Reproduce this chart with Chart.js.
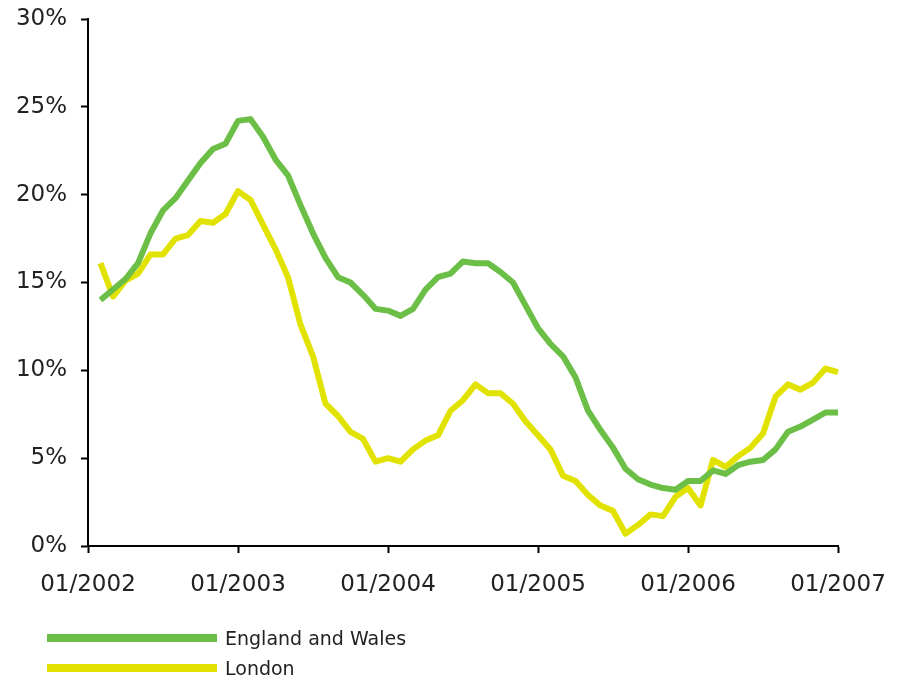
<!DOCTYPE html>
<html>
<head>
<meta charset="utf-8">
<script src="https://cdn.jsdelivr.net/npm/chart.js@4"></script>
<style>
  body { margin: 0; background: #fff; }
  #wrap { position: relative; width: 901px; height: 680px; }
  #legend { position: absolute; left: 47px; top: 623px; font-family: "DejaVu Sans", sans-serif; font-size: 19px; color: #222; }
  .item { display: flex; align-items: center; height: 30px; }
  .swatch { width: 170px; height: 8px; margin-right: 8px; }
</style>
</head>
<body>
<div id="wrap">
  <canvas id="lineChart" width="901" height="680"></canvas>
  <div id="legend"></div>
</div>
<script>
// Year tick labels on the x axis
const yearTicks = ["01/2002", "01/2003", "01/2004", "01/2005", "01/2006", "01/2007"];

// Monthly categories 01/2002 .. 01/2007
const months = [];
for (let y = 2002; y <= 2007; y++) {
  for (let m = 1; m <= 12; m++) {
    if (y === 2007 && m > 1) break;
    months.push((m < 10 ? "0" + m : "" + m) + "/" + y);
  }
}

// Annual change (%), first month has no value
const englandWales = [null,
  14.0, 14.6, 15.2, 16.1, 17.8, 19.1, 19.8, 20.8, 21.8, 22.6, 22.9, 24.2,
  24.3, 23.3, 22.0, 21.1, 19.4, 17.8, 16.4, 15.3, 15.0, 14.3, 13.5, 13.4,
  13.1, 13.5, 14.6, 15.3, 15.5, 16.2, 16.1, 16.1, 15.6, 15.0, 13.7, 12.4,
  11.5, 10.8, 9.6, 7.7, 6.6, 5.6, 4.4, 3.8, 3.5, 3.3, 3.2, 3.7,
  3.7, 4.3, 4.1, 4.6, 4.8, 4.9, 5.5, 6.5, 6.8, 7.2, 7.6, 7.6
];
const london = [null,
  16.1, 14.2, 15.1, 15.5, 16.6, 16.6, 17.5, 17.7, 18.5, 18.4, 18.9, 20.2,
  19.7, 18.3, 16.9, 15.3, 12.6, 10.8, 8.1, 7.4, 6.5, 6.1, 4.8, 5.0,
  4.8, 5.5, 6.0, 6.3, 7.7, 8.3, 9.2, 8.7, 8.7, 8.1, 7.1, 6.3,
  5.5, 4.0, 3.7, 2.9, 2.3, 2.0, 0.7, 1.2, 1.8, 1.7, 2.8, 3.3,
  2.3, 4.9, 4.5, 5.1, 5.6, 6.4, 8.5, 9.2, 8.9, 9.3, 10.1, 9.9
];

const seriesNames = ["England and Wales", "London"];
const seriesColors = ["#6bbf46", "#e2e200"];

const tickFont = { family: "DejaVu Sans", size: 23 };

const ctx = document.getElementById("lineChart").getContext("2d");
const chart = new Chart(ctx, {
  type: "line",
  data: {
    labels: months,
    datasets: [
      { label: seriesNames[0], data: englandWales, borderColor: seriesColors[0] },
      { label: seriesNames[1], data: london, borderColor: seriesColors[1] },
    ],
  },
  options: {
    responsive: false,
    animation: false,
    layout: { padding: { top: 19, right: 63, left: 0, bottom: 0 } },
    elements: {
      line: { borderWidth: 6, tension: 0, borderJoinStyle: "round", borderCapStyle: "butt" },
      point: { radius: 0 },
    },
    scales: {
      x: {
        // fixed axis box so the plot area lands where the original is
        afterFit: (scale) => {
          scale.height = 134;
          scale.paddingLeft = 0;
          scale.paddingRight = 0;
        },
        grid: {
          drawOnChartArea: false,
          tickLength: 7,
          tickWidth: 2,
          tickColor: (c) => (c.index % 12 === 0 ? "#000" : "rgba(0,0,0,0)"),
        },
        border: { color: "#000", width: 2 },
        ticks: {
          autoSkip: false,
          maxRotation: 0,
          minRotation: 0,
          padding: 18,
          color: "#222",
          font: tickFont,
          callback: (v, i) => (i % 12 === 0 ? yearTicks[i / 12] : ""),
        },
      },
      y: {
        min: 0,
        max: 30,
        afterFit: (scale) => {
          scale.width = 88;
          scale.paddingTop = 0;
          scale.paddingBottom = 0;
        },
        grid: { drawOnChartArea: false, tickLength: 7, tickWidth: 2, tickColor: "#000" },
        border: { color: "#000", width: 2 },
        ticks: {
          stepSize: 5,
          padding: 14,
          color: "#222",
          font: tickFont,
          callback: (v) => v + "%",
        },
      },
    },
    plugins: {
      legend: { display: false },
      tooltip: { enabled: false },
    },
  },
});

// Stacked legend below the chart
const legendEl = document.getElementById("legend");
chart.data.datasets.forEach((ds) => {
  const item = document.createElement("div");
  item.className = "item";
  const sw = document.createElement("span");
  sw.className = "swatch";
  sw.style.background = ds.borderColor;
  const txt = document.createElement("span");
  txt.textContent = ds.label;
  item.appendChild(sw);
  item.appendChild(txt);
  legendEl.appendChild(item);
});
</script>
</body>
</html>
